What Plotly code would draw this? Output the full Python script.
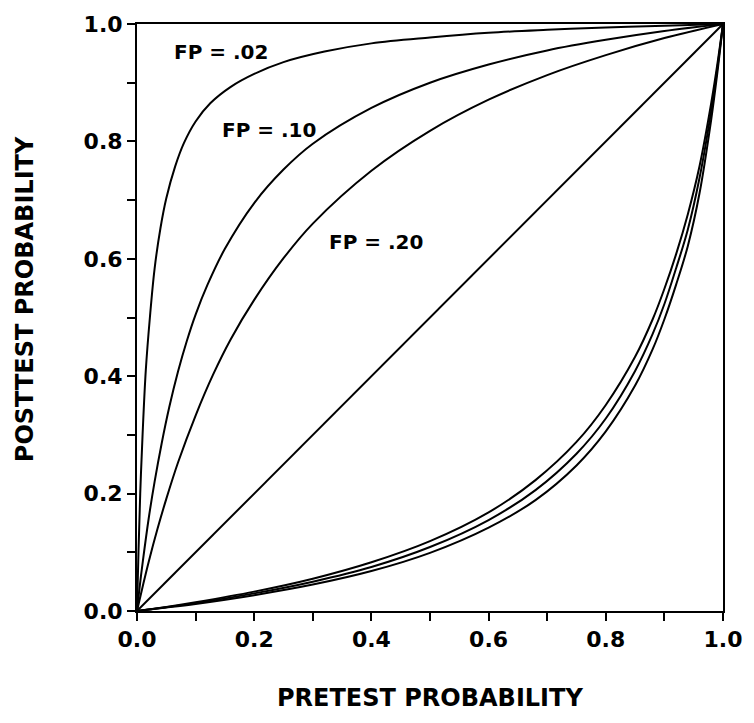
import plotly.graph_objects as go

# ---- data ----
# positive-test curves (posttest vs pretest probability)
fp02_x = [0, 0.0025, 0.0055, 0.0095, 0.015, 0.022, 0.03, 0.04, 0.05, 0.065, 0.08, 0.1, 0.125, 0.16, 0.2, 0.25, 0.32, 0.4, 0.5, 0.6, 0.7, 0.8, 0.9, 1.0]
fp02_y = [0, 0.10, 0.20, 0.30, 0.41, 0.50, 0.583, 0.652, 0.703, 0.757, 0.797, 0.834, 0.865, 0.893, 0.915, 0.935, 0.953, 0.967, 0.977, 0.985, 0.990, 0.994, 0.997, 1.0]

fp10_x = [0, 0.005, 0.01, 0.02, 0.03, 0.042, 0.055, 0.07, 0.085, 0.1, 0.12, 0.15, 0.2, 0.25, 0.3, 0.4, 0.5, 0.6, 0.7, 0.8, 0.9, 1.0]
fp10_y = [0, 0.045, 0.085, 0.158, 0.22, 0.285, 0.347, 0.408, 0.46, 0.505, 0.555, 0.617, 0.695, 0.752, 0.796, 0.857, 0.9, 0.931, 0.955, 0.973, 0.988, 1.0]

fp20_x = [0, 0.01, 0.02, 0.035, 0.05, 0.07, 0.1, 0.13, 0.16, 0.2, 0.25, 0.3, 0.4, 0.5, 0.6, 0.7, 0.8, 0.9, 1.0]
fp20_y = [0, 0.043, 0.084, 0.14, 0.191, 0.253, 0.333, 0.403, 0.463, 0.53, 0.601, 0.66, 0.75, 0.818, 0.871, 0.913, 0.947, 0.976, 1.0]

diag_x = [0, 1]
diag_y = [0, 1]

# negative-test curves (three nearly overlapping curves)
neg_x = [0, 0.05, 0.1, 0.2, 0.3, 0.4, 0.5, 0.6, 0.68, 0.75, 0.8, 0.85, 0.88, 0.9, 0.92, 0.94, 0.96, 0.98, 0.99, 1.0]
neg_a_y = [0, 0.007, 0.015, 0.033, 0.055, 0.083, 0.119, 0.168, 0.223, 0.288, 0.351, 0.433, 0.497, 0.549, 0.608, 0.676, 0.758, 0.866, 0.929, 1.0]
neg_b_y = [0, 0.0064, 0.0134, 0.030, 0.050, 0.075, 0.109, 0.155, 0.206, 0.268, 0.328, 0.409, 0.472, 0.523, 0.584, 0.650, 0.738, 0.853, 0.922, 1.0]
neg_c_y = [0, 0.0058, 0.0121, 0.027, 0.045, 0.068, 0.099, 0.142, 0.189, 0.248, 0.306, 0.384, 0.446, 0.497, 0.556, 0.622, 0.712, 0.838, 0.914, 1.0]

labels = ["FP = .02", "FP = .10", "FP = .20"]
label_x = [0.144, 0.225, 0.407]
label_y = [0.953, 0.82, 0.629]

tick_vals = [0, 0.2, 0.4, 0.6, 0.8, 1.0]
tick_text = ["0.0", "0.2", "0.4", "0.6", "0.8", "1.0"]

x_title = "PRETEST PROBABILITY"
y_title = "POSTTEST PROBABILITY"

FONT = "DejaVu Sans"
line = dict(color="black", width=2, shape="spline", smoothing=1.0)

fig = go.Figure()
for xs, ys in [(fp02_x, fp02_y), (fp10_x, fp10_y), (fp20_x, fp20_y),
               (diag_x, diag_y), (neg_x, neg_a_y), (neg_x, neg_b_y), (neg_x, neg_c_y)]:
    fig.add_trace(go.Scatter(x=xs, y=ys, mode="lines", line=line,
                             showlegend=False, hoverinfo="skip"))

for t, lx, ly in zip(labels, label_x, label_y):
    fig.add_annotation(x=lx, y=ly, text=t, showarrow=False,
                       font=dict(family=FONT, size=20, color="black", weight="bold"))

fig.add_annotation(x=0.5, y=-0.148, xref="paper", yref="paper", text=x_title,
                   showarrow=False, xanchor="center", yanchor="middle",
                   font=dict(family=FONT, size=24, color="black", weight="bold"))
fig.add_annotation(x=-0.192, y=0.532, xref="paper", yref="paper", text=y_title,
                   showarrow=False, textangle=-90, xanchor="center", yanchor="middle",
                   font=dict(family=FONT, size=24, color="black", weight="bold"))

axis_common = dict(
    range=[0, 1], showgrid=False, zeroline=False,
    showline=True, linecolor="black", linewidth=2, mirror=True,
    ticks="outside", ticklen=8, tickwidth=2, tickcolor="black",
    tickvals=tick_vals, ticktext=tick_text,
    tickfont=dict(family=FONT, size=22, color="black", weight="bold"),
    minor=dict(tickvals=[0.1, 0.3, 0.5, 0.7, 0.9], ticks="outside", ticklen=8,
               tickwidth=2, tickcolor="black"),
)

fig.update_layout(
    width=754, height=723,
    margin=dict(l=137, r=24, t=20, b=112),
    paper_bgcolor="white", plot_bgcolor="white",
    xaxis=dict(**axis_common),
    yaxis=dict(**axis_common),
)

fig.write_html("out.html")
